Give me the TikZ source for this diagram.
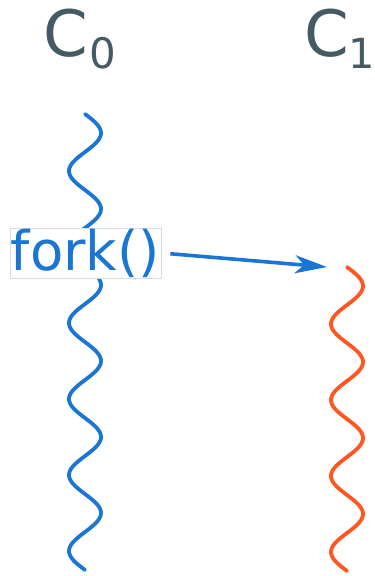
\documentclass[tikz,border=0pt]{standalone}
\usepackage{fontspec}
\setmainfont{DejaVu Sans}
\usetikzlibrary{arrows.meta}
\definecolor{mblue}{HTML}{1976D2}
\definecolor{morange}{HTML}{FF5722}
\definecolor{mgray}{HTML}{455A64}
\begin{document}
\begin{tikzpicture}[x=1pt,y=-1pt,
  wave/.style={line width=3.8pt, line cap=round},
  lbl/.style={text=mgray, inner sep=0pt, anchor=base west},
  forkbox/.style={draw=black!14, line width=0.8pt, fill=white, text=mblue,
    font=\fontsize{54.5}{60}\selectfont, minimum width=151pt, minimum height=50pt,
    inner sep=0pt, text height=41.5pt, text depth=7pt},
  fwd/.style={mblue, line width=3.6pt, -{Stealth[length=32pt,width=18pt,inset=9pt]}}]
\useasboundingbox (0,0) rectangle (375,576);
\node[lbl] (c0) at (43.5,56) {\fontsize{64}{64}\selectfont C\kern1pt\raisebox{-12pt}{\fontsize{42}{42}\selectfont 0}};
\node[lbl] (c1) at (303.8,56) {\fontsize{64}{64}\selectfont C\raisebox{-12pt}{\fontsize{41.5}{41.5}\selectfont 1}};
\draw[wave, mblue] plot[domain=0:456, samples=240, smooth] ({85+16*sin(\x*4.73684)}, {114+\x});
\draw[wave, morange] plot[domain=0:304, samples=160, smooth] ({347+16*sin(\x*4.73684)}, {267+\x});
\node[forkbox] (fork) at (85.5,253) {fork()};
\coordinate (c1top) at (327,267);
\draw[fwd, shorten <=9pt] (fork.east) -- (c1top);
\end{tikzpicture}
\end{document}
